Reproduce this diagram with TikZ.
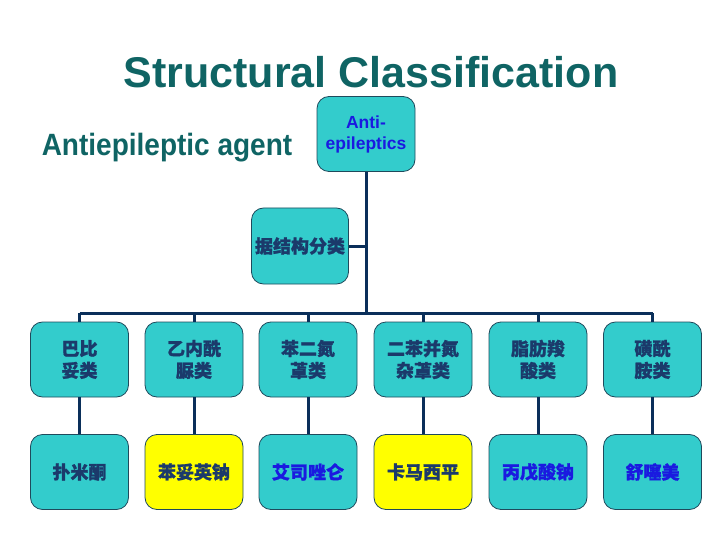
\documentclass[tikz,border=0pt]{standalone}
\usepackage{fontspec}
\setmainfont{Liberation Sans}
\newfontfamily\cjk{Noto Sans CJK SC}[BoldFeatures={FakeBold=1.2}]
\usepackage{xcolor}
\usetikzlibrary{positioning}
\definecolor{ChartTeal}{HTML}{0F6464}
\definecolor{ChartFill}{HTML}{33CCCC}
\definecolor{ChartEdge}{HTML}{1F4A5C}
\definecolor{ChartWire}{HTML}{0A2F5A}
\definecolor{ChartNavy}{HTML}{1B3A6B}
\definecolor{ChartBlue}{HTML}{1A1AE0}
\definecolor{ChartPick}{HTML}{FFFF00}
\tikzset{
  card/.style={draw=ChartEdge, line width=.8pt, fill=ChartFill, rounded corners=12pt, minimum width=98pt, minimum height=75pt, inner sep=2pt, align=center, text=ChartNavy, font=\cjk\bfseries\fontsize{18}{22}\selectfont},
  picked/.style={card, fill=ChartPick},
  drug/.style={text=ChartBlue},
  wire/.style={draw=ChartWire, line width=3pt},
}

\begin{document}
\begin{tikzpicture}[x=1pt, y=-1pt]
  \useasboundingbox (0,0) rectangle (720,540);
  \node[anchor=base, text=ChartTeal, font=\bfseries\fontsize{43}{50}\selectfont] (title) at (371,88) {Structural Classification};
  \node[anchor=base, text=ChartTeal, font=\bfseries\fontsize{28}{32}\selectfont, yscale=1.1] (agent) at (167,156) {Antiepileptic agent};
  \node[card, text=ChartBlue, font=\bfseries\fontsize{17.5}{21}\selectfont] (root) at (366,134) {Anti-\\epileptics};
  \node[card, minimum width=97pt, minimum height=76pt] (group) at (300,246) {据结构分类};
  % classes by structure
  \node[card] (barb) at (79.5,359.5) {巴比\\妥类};
  \node[card] (hyd) at (194,359.5) {乙内酰\\脲类};
  \node[card] (benz) at (308,359.5) {苯二氮\\䓬类};
  \node[card] (dibz) at (423,359.5) {二苯并氮\\杂䓬类};
  \node[card] (fatty) at (538,359.5) {脂肪羧\\酸类};
  \node[card] (sulf) at (652.5,359.5) {磺酰\\胺类};
  % representative drugs
  \node[card] (prim) at (79.5,472) {扑米酮};
  \node[picked] (phen) at (194,472) {苯妥英钠};
  \node[card, drug] (esta) at (308,472) {艾司唑仑};
  \node[picked] (carb) at (423,472) {卡马西平};
  \node[card, drug] (valp) at (538,472) {丙戊酸钠};
  \node[card, drug] (sult) at (652.5,472) {舒噻美};
  \coordinate (hub) at (366,313);
  \draw[wire] (root.south) -- (hub);
  \draw[wire] (group.east) -- (group.east -| hub);
  \draw[wire] (barb.north |- hub) -- (sulf.north |- hub);
  \draw[wire] (barb.north) -- (barb.north |- hub);
  \draw[wire] (hyd.north) -- (hyd.north |- hub);
  \draw[wire] (benz.north) -- (benz.north |- hub);
  \draw[wire] (dibz.north) -- (dibz.north |- hub);
  \draw[wire] (fatty.north) -- (fatty.north |- hub);
  \draw[wire] (sulf.north) -- (sulf.north |- hub);
  \draw[wire] (barb) -- (prim);
  \draw[wire] (hyd) -- (phen);
  \draw[wire] (benz) -- (esta);
  \draw[wire] (dibz) -- (carb);
  \draw[wire] (fatty) -- (valp);
  \draw[wire] (sulf) -- (sult);
\end{tikzpicture}
\end{document}
